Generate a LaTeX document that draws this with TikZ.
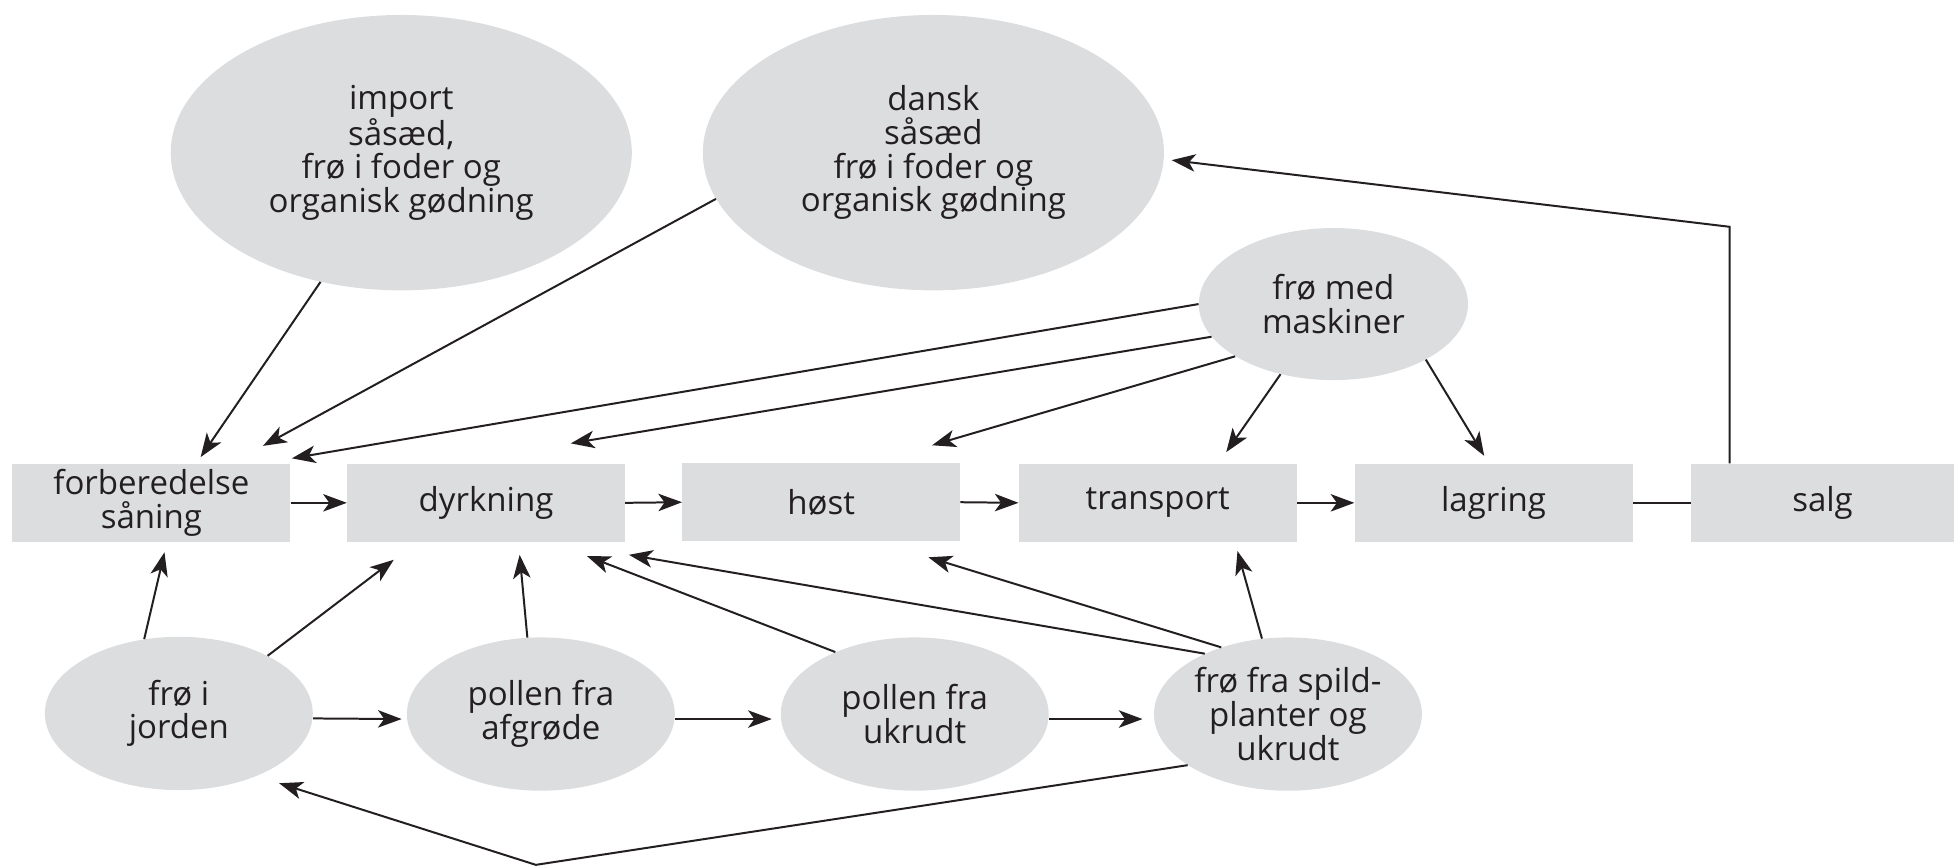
\documentclass[tikz,border=0pt]{standalone}
\usepackage{fontspec}
\setmainfont{Open Sans}
\usetikzlibrary{shapes.geometric,arrows.meta,calc}
\definecolor{boxgray}{HTML}{DCDDDF}
\definecolor{ink}{HTML}{231F20}
\begin{document}
\begin{tikzpicture}[x=1pt,y=-1pt,
  every node/.style={text=ink, font=\fontsize{26.5}{27}\selectfont, align=center, inner sep=0pt},
  box/.style={rectangle, fill=boxgray, minimum width=223pt, minimum height=63pt},
  oval/.style={ellipse, fill=boxgray, minimum width=215pt, minimum height=123pt},
  bigoval/.style={ellipse, fill=boxgray, minimum width=370pt, minimum height=221pt},
  arr/.style={draw=ink, line width=1.6pt, -{Stealth[length=19pt,width=14pt,inset=5pt]}},
  ln/.style={draw=ink, line width=1.6pt}]
\useasboundingbox (0,0) rectangle (1568,696);
% upper ellipses
\node[bigoval] (imp) at (322,122.5) {import\\såsæd,\\frø i foder og\\organisk gødning};
\node[bigoval] (dan) at (749,122.5) {dansk\\såsæd\\frø i foder og\\organisk gødning};
\node[oval, minimum width=216pt, minimum height=122pt] (mas) at (1070,244) {frø med\\maskiner};
% process boxes
\node[box] (forb) at (121.5,403.5) {forberedelse\\såning};
\node[box] (dyrk) at (390,403.5) {dyrkning};
\node[box] (hoest) at (659,403) {høst};
\node[box] (trans) at (929,403.5) {transport};
\node[box] (lag) at (1198.5,403.5) {lagring};
\node[box, minimum width=211pt] (salg) at (1462.5,403.5) {salg};
% lower ellipses
\node[oval] (jord) at (143.5,572.5) {frø i\\jorden};
\node[oval] (afgr) at (434,573) {pollen fra\\afgrøde};
\node[oval] (ukr) at (734,573) {pollen fra\\ukrudt};
\node[oval] (spild) at (1033.5,573) {frø fra spild-\\planter og\\ukrudt};
\coordinate (bend) at (1388,182);
\coordinate (low) at (430,694);
% connectors from the top
\draw[arr] (imp.-122) -- ([xshift=39.5pt,yshift=5pt]forb.north);
\draw[arr] (dan.192) -- ([xshift=89.5pt,yshift=14pt]forb.north);
\draw[arr] (mas.180) -- ([xshift=1pt,yshift=4pt]forb.north east);
\draw[arr] (mas.195) -- ([xshift=68pt,yshift=16pt]dyrk.north);
\draw[arr] (mas.208) -- ([xshift=89pt,yshift=14pt]hoest.north);
\draw[arr] (mas.233) -- ([xshift=55pt,yshift=9pt]trans.north);
\draw[arr] (mas.-31) -- ([xshift=-7.5pt,yshift=6pt]lag.north);
\draw[arr] ([xshift=-74.5pt]salg.north) -- (bend) -- ([xshift=6pt,yshift=-6pt]dan.east);
% process chain
\draw[arr] (forb.east) -- (dyrk.west);
\draw[arr] (dyrk.east) -- (hoest.west);
\draw[arr] (hoest.east) -- (trans.west);
\draw[arr] (trans.east) -- (lag.west);
\draw[ln] (lag.east) -- (salg.west);
% connectors from below
\draw[arr] (jord.115) -- ([xshift=10.5pt,yshift=-8pt]forb.south);
\draw[arr] (jord.33) -- ([xshift=-74pt,yshift=-14pt]dyrk.south);
\draw[arr] (afgr.100) -- ([xshift=27pt,yshift=-10pt]dyrk.south);
\draw[arr] (ukr.142) -- ([xshift=81pt,yshift=-11pt]dyrk.south);
\draw[arr] (spild.144) -- ([xshift=3pt,yshift=-10pt]dyrk.south east);
\draw[arr] (spild.135) -- ([xshift=86pt,yshift=-12.5pt]hoest.south);
\draw[arr] (spild.109) -- ([xshift=64pt,yshift=-7pt]trans.south);
\draw[arr] ([yshift=-4pt]jord.east) -- ([xshift=-4pt,yshift=-4pt]afgr.west);
\draw[arr] ([yshift=-4pt]afgr.east) -- ([xshift=-7pt,yshift=-4pt]ukr.west);
\draw[arr] ([yshift=-4pt]ukr.east) -- ([xshift=-9pt,yshift=-4pt]spild.west);
\draw[arr] (spild.207) -- (low) -- ([xshift=80.5pt,yshift=-56pt]jord.center);
\end{tikzpicture}
\end{document}
